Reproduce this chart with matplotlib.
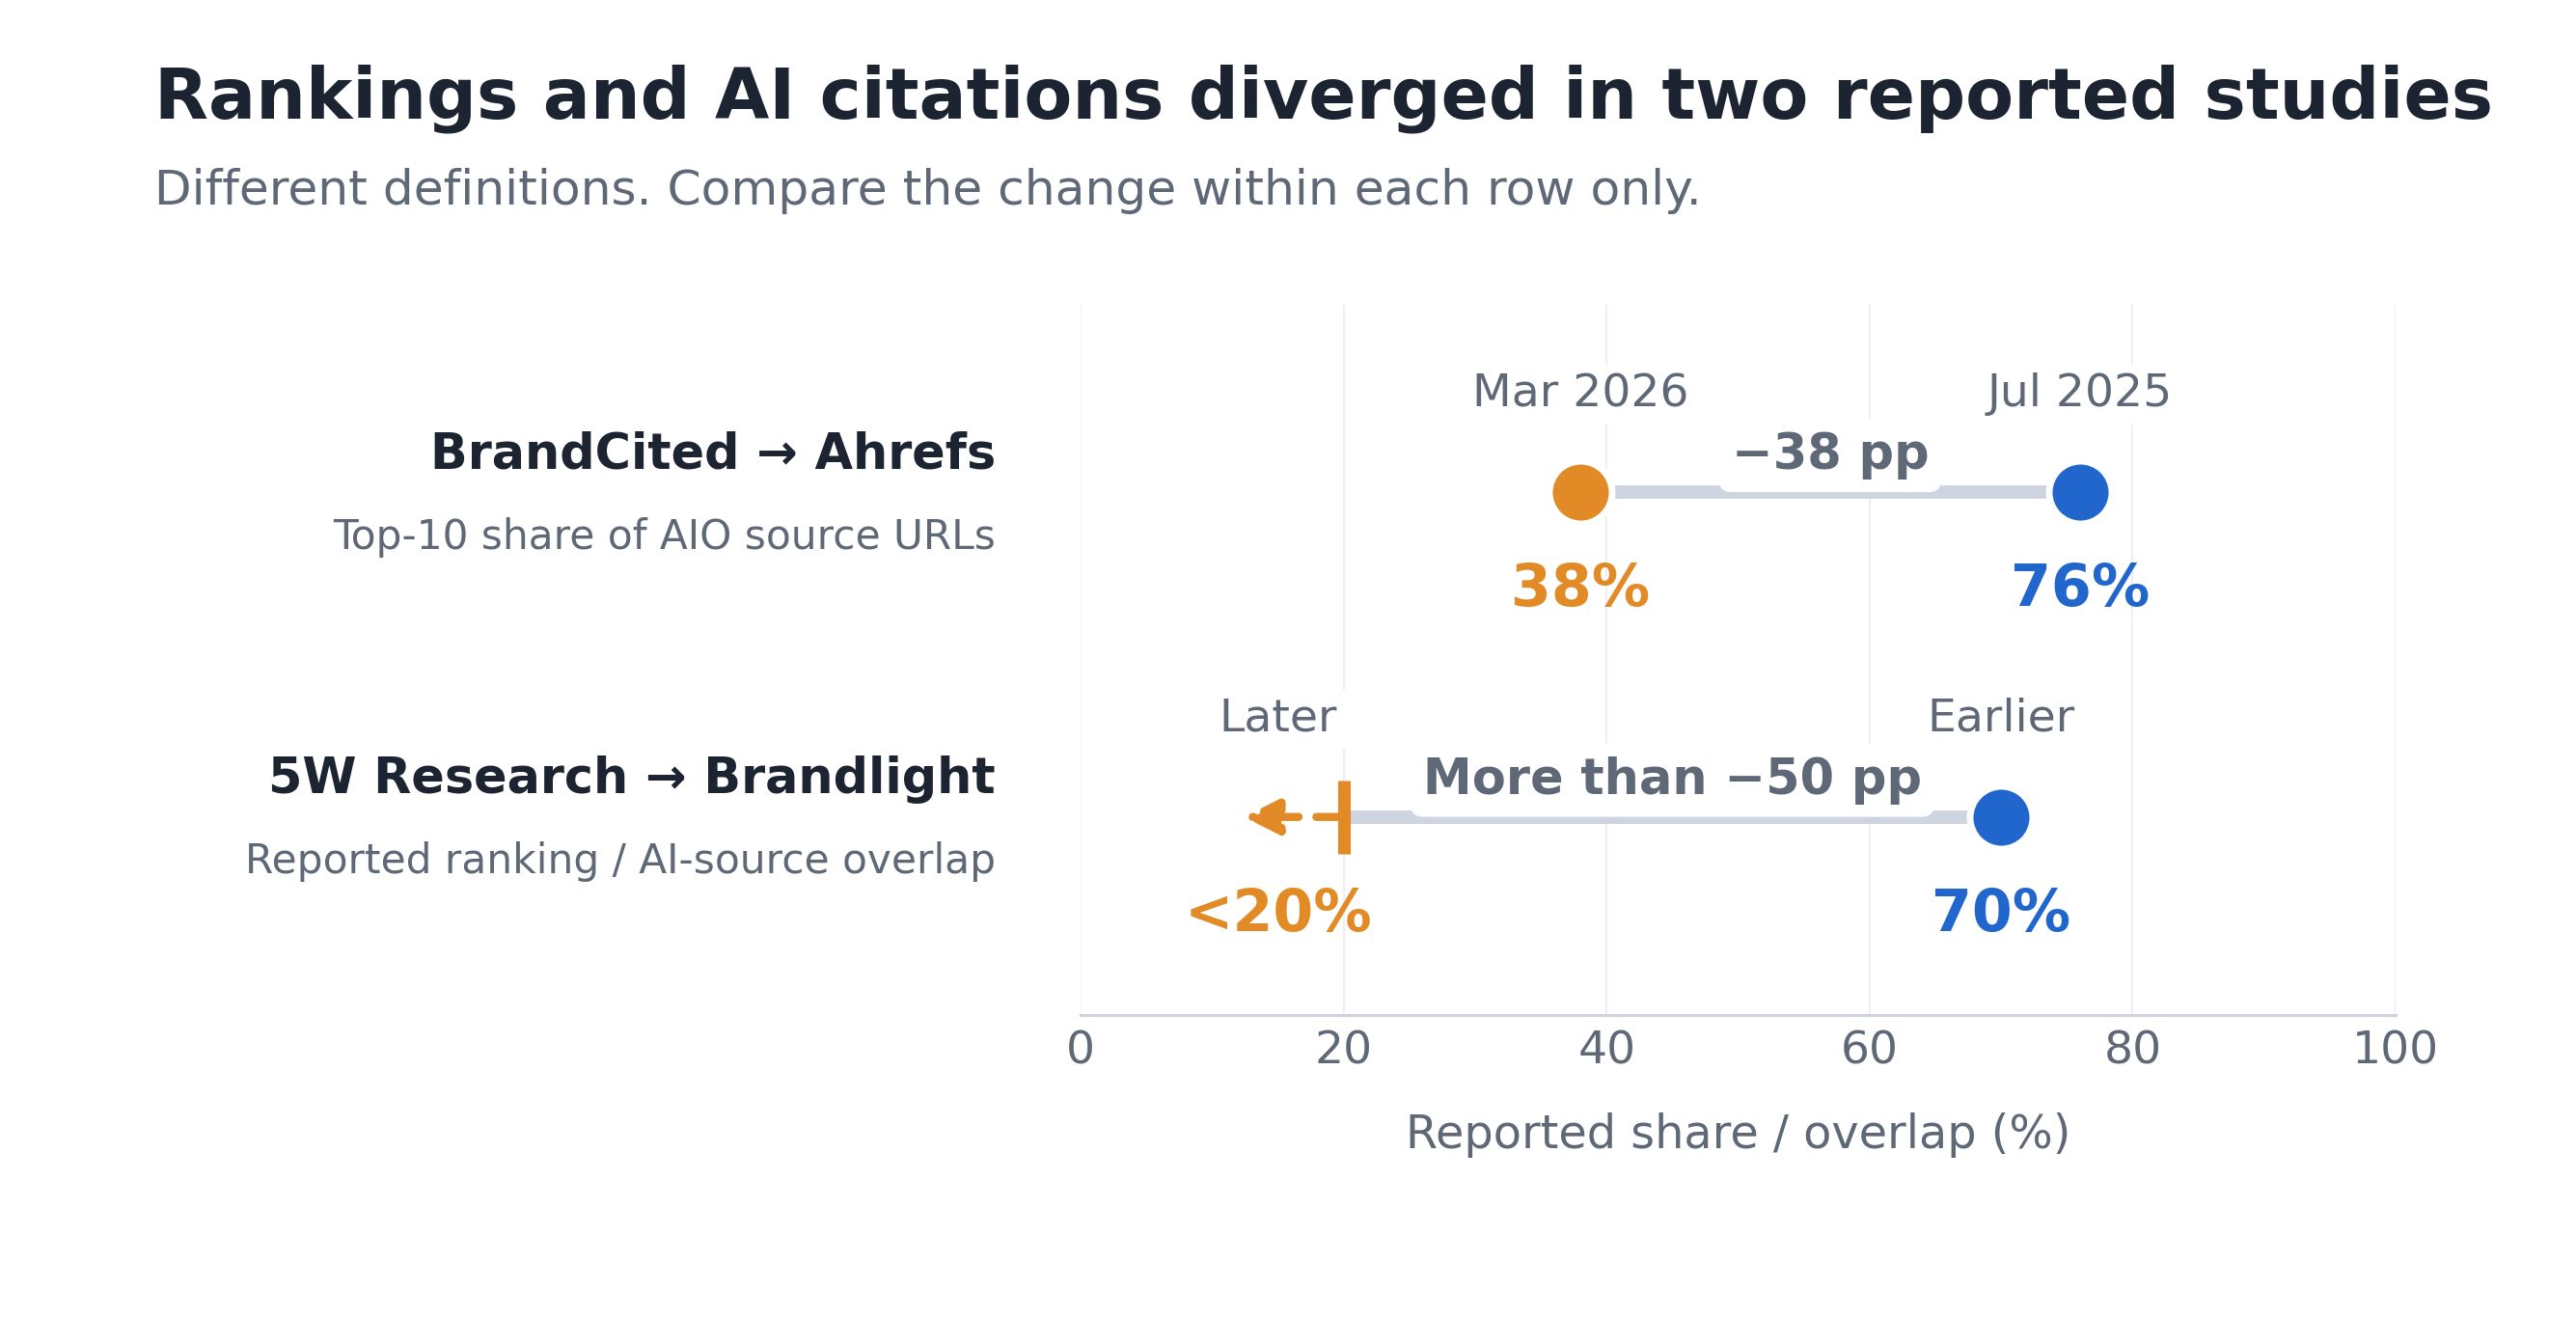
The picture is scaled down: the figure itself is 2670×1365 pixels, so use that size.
import numpy as np
import matplotlib
matplotlib.use("Agg")
import matplotlib.pyplot as plt
import matplotlib.transforms as mtransforms

# ---------------- data ----------------
studies = ["BrandCited \u2192 Ahrefs", "5W Research \u2192 Brandlight"]
definitions = ["Top-10 share of AIO source URLs", "Reported ranking / AI-source overlap"]
earlier_values = [76, 70]
later_values = [38, 20]
later_is_upper_bound = [False, True]
earlier_labels = ["Jul 2025", "Earlier"]
later_labels = ["Mar 2026", "Later"]
earlier_value_text = ["76%", "70%"]
later_value_text = ["38%", "<20%"]
delta_text = ["\u221238 pp", "More than \u221250 pp"]
x_ticks = [0, 20, 40, 60, 80, 100]
x_tick_labels = ["0", "20", "40", "60", "80", "100"]

title = "Rankings and AI citations diverged in two reported studies"
subtitle = "Different definitions. Compare the change within each row only."
x_label = "Reported share / overlap (%)"

# ---------------- style ----------------
DARK = "#1C2331"
GRAY = "#5E6876"
ORANGE = "#E28A25"
BLUE = "#2166CC"
LINE = "#CED5E0"
GRID = "#EEF0F4"
SPINE = "#CDD3DE"
BOUND_LABEL_SHIFT = 5
BOUND_ARROW_LEN = 7.6

plt.rcParams["font.family"] = ["DejaVu Sans"]

fig = plt.figure(figsize=(13.35, 6.825), dpi=200)
ax = fig.add_axes([0.4195, 0.2293, 0.9300 - 0.4195, 0.7692 - 0.2293])

rows = np.arange(len(studies))
earlier = np.array(earlier_values, dtype=float)
later = np.array(later_values, dtype=float)
bound = np.array(later_is_upper_bound)

ax.set_xlim(0, 100)
ax.set_ylim(1.61, -0.58)
ax.set_xticks(x_ticks)
ax.set_xticklabels(x_tick_labels)
ax.set_yticks([])
ax.tick_params(axis="x", length=0, pad=5.4, labelsize=17, labelcolor=GRAY)
for s in ["top", "right", "left"]:
    ax.spines[s].set_visible(False)
ax.spines["bottom"].set_color(SPINE)
ax.spines["bottom"].set_linewidth(1.1)
ax.grid(axis="x", color=GRID, lw=0.8)
ax.set_axisbelow(True)

ax.set_xlabel(x_label, fontsize=17.2, color=GRAY, va="baseline")
ax.xaxis.set_label_coords(0.5, -0.1872)

# connecting lines
for r in rows:
    ax.plot([later[r], earlier[r]], [r, r], color=LINE, lw=5, solid_capstyle="butt", zorder=2)

# earlier dots
ax.plot(earlier, rows, "o", ms=23.4, mfc=BLUE, mec="white", mew=2.5, zorder=4, linestyle="none")
# later exact dots
ax.plot(later[~bound], rows[~bound], "o", ms=23.4, mfc=ORANGE, mec="white", mew=2.5,
        zorder=4, linestyle="none")
# later bounds
ax.plot(later[bound], rows[bound], "|", ms=27.7, mew=4.7, color=ORANGE, zorder=4, linestyle="none")
for r in rows[bound]:
    ax.annotate("", xy=(later[r] - BOUND_ARROW_LEN, r), xytext=(later[r], r),
                arrowprops=dict(arrowstyle="-|>", color=ORANGE, lw=3,
                                linestyle=(0, (3.4, 2.2)), mutation_scale=27,
                                shrinkA=0, shrinkB=0, capstyle="round", joinstyle="round"),
                zorder=4)

box_sq = dict(boxstyle="square,pad=0.17", fc="white", ec="none")
for r in rows:
    lx = later[r] - BOUND_LABEL_SHIFT if bound[r] else later[r]
    # period labels above
    ax.annotate(later_labels[r], xy=(lx, r), xytext=(0, 32), textcoords="offset points",
                ha="center", va="baseline", fontsize=17, color=GRAY, bbox=box_sq, zorder=3)
    ax.annotate(earlier_labels[r], xy=(earlier[r], r), xytext=(0, 32), textcoords="offset points",
                ha="center", va="baseline", fontsize=17, color=GRAY, bbox=box_sq, zorder=3)
    # values below
    ax.annotate(later_value_text[r], xy=(lx, r), xytext=(0, -42.5), textcoords="offset points",
                ha="center", va="baseline", fontsize=21.7, fontweight="bold", color=ORANGE, zorder=3)
    ax.annotate(earlier_value_text[r], xy=(earlier[r], r), xytext=(0, -42.5),
                textcoords="offset points", ha="center", va="baseline", fontsize=21.7,
                fontweight="bold", color=BLUE, zorder=3)
    # delta label
    mid = (later[r] + earlier[r]) / 2
    ax.annotate(delta_text[r], xy=(mid, r), xytext=(0, 8.6), textcoords="offset points",
                ha="center", va="baseline", fontsize=18.35, fontweight="bold", color=GRAY,
                bbox=dict(boxstyle="round,pad=0.25", fc="white", ec="none"), zorder=3)

# row labels on the left
blend = mtransforms.blended_transform_factory(fig.transFigure, ax.transData)
for r in rows:
    ax.annotate(studies[r], xy=(0.3865, r), xycoords=blend, xytext=(0, 9),
                textcoords="offset points", ha="right", va="baseline", fontsize=18.3,
                fontweight="bold", color=DARK, annotation_clip=False)
    ax.annotate(definitions[r], xy=(0.3865, r), xycoords=blend, xytext=(0, -21),
                textcoords="offset points", ha="right", va="baseline", fontsize=15.2,
                color=GRAY, annotation_clip=False)

fig.text(0.0601, 0.9099, title, fontsize=26.2, fontweight="bold", color=DARK, va="baseline")
fig.text(0.0601, 0.8447, subtitle, fontsize=18.1, color=GRAY, va="baseline")

fig.savefig("out.png", dpi=200, facecolor="white")
